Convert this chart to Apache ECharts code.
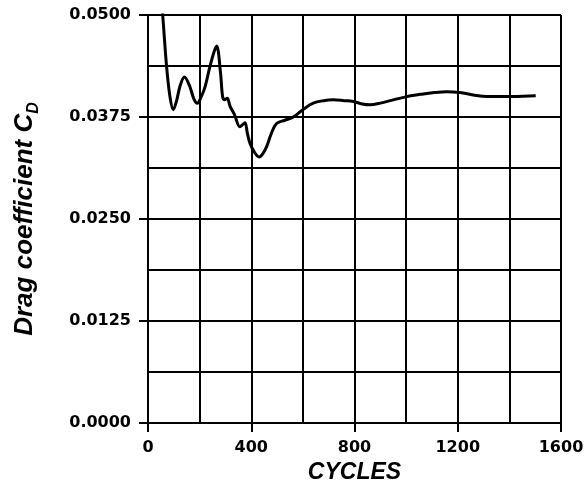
<!DOCTYPE html>
<html>
<head>
<meta charset="utf-8">
<script src="https://cdn.jsdelivr.net/npm/echarts@6/dist/echarts.min.js"></script>
<style>html,body{margin:0;padding:0;background:#fff}#c{width:585px;height:490px}</style>
</head>
<body>
<div id="c"></div>
<script>
const cycles = [52, 60, 72, 85, 98, 110, 125, 141, 160, 178, 191, 205, 221, 240, 256, 266, 281, 289, 297, 307, 318, 335, 356, 368, 376, 385, 395, 412, 431, 445, 460, 478, 498, 530, 563, 600, 640, 680, 718, 760, 795, 830, 860, 900, 950, 1002, 1060, 1110, 1157, 1208, 1260, 1312, 1415, 1502];
const dragCoef = [0.0521, 0.0487, 0.0437, 0.0400, 0.0384, 0.0394, 0.0414, 0.0424, 0.0414, 0.0397, 0.0392, 0.0399, 0.0412, 0.0437, 0.0455, 0.0462, 0.0429, 0.0400, 0.0396, 0.0398, 0.0388, 0.0378, 0.0363, 0.0366, 0.0368, 0.0355, 0.0343, 0.0332, 0.0326, 0.0330, 0.0339, 0.0355, 0.0367, 0.0371, 0.0375, 0.0384, 0.0392, 0.0395, 0.0396, 0.0395, 0.0394, 0.0391, 0.0390, 0.0392, 0.0396, 0.0400, 0.0403, 0.0405, 0.0406, 0.0405, 0.0402, 0.0400, 0.0400, 0.0401];
const xTitle = 'CYCLES';
const yTitle = 'Drag coefficient C';
const ySub = 'D';
const xRange = [0, 1600];
const yRange = [0, 0.05];
const xLabelStep = 400;
const yLabelStep = 0.0125;

const chart = echarts.init(document.getElementById('c'));
const labelFont = {fontFamily: 'DejaVu Sans', fontWeight: 'bold', fontSize: 16, color: '#000'};
const gridLine = {show: true, lineStyle: {color: '#000', width: 2, type: 'solid'}};
chart.setOption({
  animation: false,
  backgroundColor: '#fff',
  grid: {left: 148, right: 24, top: 15, bottom: 67, containLabel: false, outerBoundsMode: 'none'},
  xAxis: [{
    type: 'value', min: xRange[0], max: xRange[1], interval: xLabelStep,
    name: xTitle, nameLocation: 'middle', nameGap: 38,
    nameTextStyle: {fontFamily: 'Liberation Sans', fontWeight: 'bold', fontStyle: 'italic', fontSize: 23, color: '#000'},
    axisLine: {show: true, lineStyle: {color: '#000', width: 2}},
    axisTick: {show: true, length: 9, lineStyle: {color: '#000', width: 2}},
    axisLabel: Object.assign({margin: 17, formatter: v => String(v)}, labelFont),
    splitLine: gridLine,
    z: 5
  }, {
    type: 'value', min: xRange[0], max: xRange[1], interval: xLabelStep / 2, position: 'bottom',
    axisLine: {show: false}, axisTick: {show: false}, axisLabel: {show: false},
    splitLine: gridLine
  }],
  yAxis: [{
    type: 'value', min: yRange[0], max: yRange[1], interval: yLabelStep,
    name: '{t|' + yTitle + '}{s|' + ySub + '}', nameLocation: 'middle', nameGap: 106, nameRotate: 90,
    nameTextStyle: {
      rich: {
        t: {fontFamily: 'Liberation Sans', fontWeight: 'bold', fontStyle: 'italic', fontSize: 26, color: '#000', lineHeight: 34, verticalAlign: 'middle'},
        s: {fontFamily: 'Liberation Sans', fontWeight: 'bold', fontStyle: 'italic', fontSize: 16, color: '#000', lineHeight: 34, verticalAlign: 'bottom'}
      }
    },
    axisLine: {show: true, lineStyle: {color: '#000', width: 2}},
    axisTick: {show: true, length: 9, lineStyle: {color: '#000', width: 2}},
    axisLabel: Object.assign({margin: 17, formatter: v => v.toFixed(4)}, labelFont),
    splitLine: gridLine,
    z: 5
  }, {
    type: 'value', min: yRange[0], max: yRange[1], interval: yLabelStep / 2, position: 'left',
    axisLine: {show: false}, axisTick: {show: false}, axisLabel: {show: false},
    splitLine: gridLine
  }],
  series: [{
    type: 'line',
    xAxisIndex: 0, yAxisIndex: 0,
    data: cycles.map((c, i) => [c, dragCoef[i]]),
    showSymbol: false,
    smooth: 0.35,
    clip: true,
    lineStyle: {color: '#000', width: 3}
  }]
});
</script>
</body>
</html>
